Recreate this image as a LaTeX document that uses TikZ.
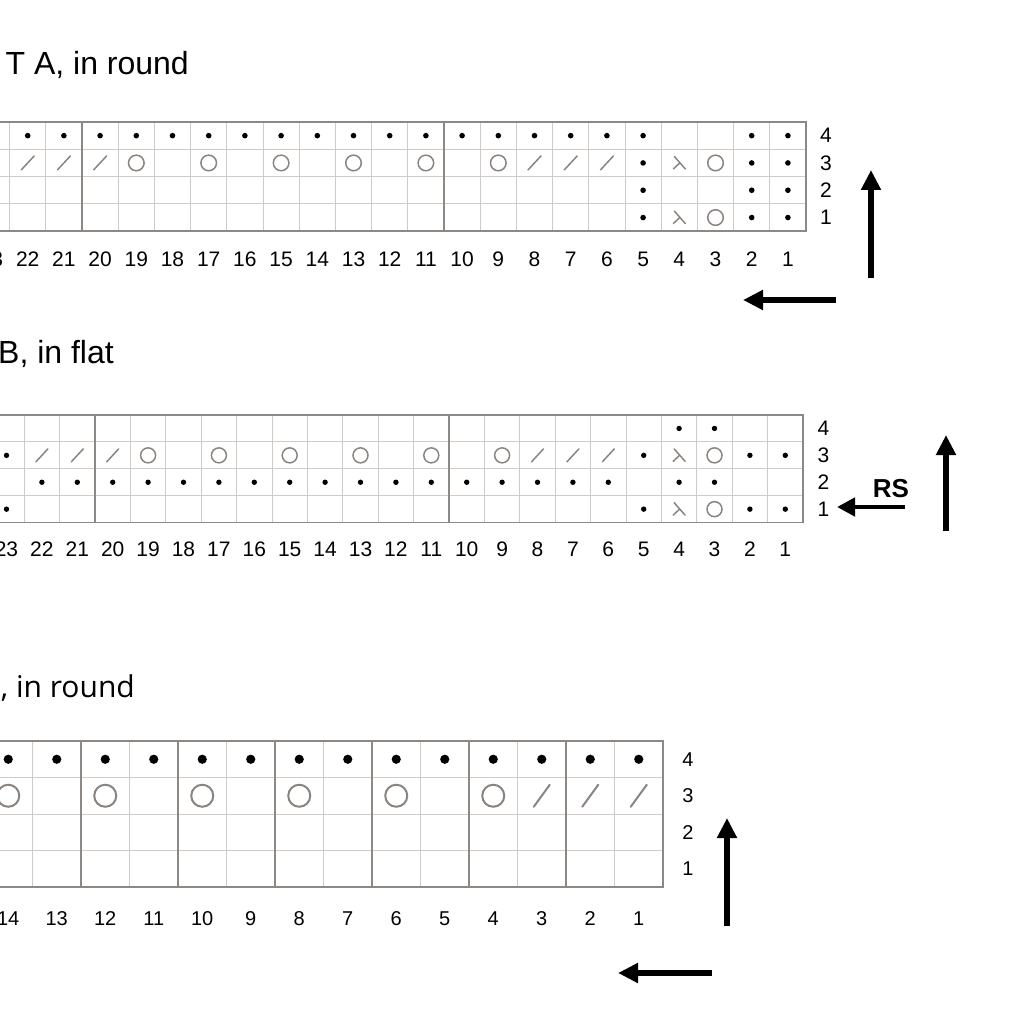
\documentclass[tikz,border=0pt]{standalone}
\usepackage{fontspec}
\setmainfont{Liberation Sans}
\newfontfamily\titleCfont{Open Sans}
\usetikzlibrary{arrows.meta}
\definecolor{gridlight}{HTML}{D2CBC5}
\definecolor{griddark}{HTML}{8E8884}
\definecolor{symgrey}{HTML}{8A8480}
\tikzset{
  cellline/.style={draw=gridlight, line width=1pt},
  sepline/.style={draw=griddark, line width=1.3pt},
  gridborder/.style={draw=griddark, line width=1.6pt},
  numlbl/.style={font=\fontsize{21}{21}\selectfont, inner sep=0pt},
  titletext/.style={font=\fontsize{32}{32}\selectfont, inner sep=0pt},
  symline/.style={draw=symgrey, line width=1.5pt, line cap=round},
  dotsym/.style={fill=black},
  bigarrow/.style={line width=6pt, -{Triangle[width=19pt,length=20pt]}},
  rsarrow/.style={line width=4.5pt, -{Triangle[width=18pt,length=18pt]}},
}
\newcommand\kgrid{%
  \foreach \j in {1,2,3}{\draw[cellline] ({\RR-\WW*\NC},{\TT+\j*\HH}) -- (\RR,{\TT+\j*\HH});}%
  \foreach \k in {1,...,\NC}{%
    \pgfmathtruncatemacro\m{mod(\k,\SEP)}%
    \ifnum\m=0\relax
      \draw[sepline] ({\RR-\WW*\k},\TT) -- ({\RR-\WW*\k},{\TT+4*\HH});
    \else
      \draw[cellline] ({\RR-\WW*\k},\TT) -- ({\RR-\WW*\k},{\TT+4*\HH});
    \fi
  }%
  \draw[gridborder] ({\RR-\WW*\NC},\TT) -- (\RR,\TT) -- (\RR,{\TT+4*\HH}) -- ({\RR-\WW*\NC},{\TT+4*\HH});
}
\begin{document}
\begin{tikzpicture}[x=1pt,y=-1pt]
\useasboundingbox (0,0) rectangle (1024,1024);
\clip (0,0) rectangle (1024,1024);

% ================= CHART A =================
\node[titletext, anchor=base east] (titleA) at (189,75) {T A, in round};
\def\RR{806}\def\WW{36.2}\def\TT{122}\def\HH{27.3}\def\NC{24}\def\SEP{10}
\kgrid
\foreach \c/\r in {1/4,2/4,5/4,6/4,7/4,8/4,9/4,10/4,11/4,12/4,13/4,14/4,15/4,16/4,17/4,18/4,19/4,20/4,21/4,22/4,
  5/3,2/3,1/3, 5/2,2/2,1/2, 5/1,2/1,1/1}
  {\fill[dotsym] ({\RR-\WW*(\c-0.5)},{\TT+\HH*(4.5-\r)}) circle[radius=2.8];}
\foreach \c/\r in {19/3,17/3,15/3,13/3,11/3,9/3,3/3,3/1}
  {\draw[symline] ({\RR-\WW*(\c-0.5)},{\TT+\HH*(4.5-\r)}) circle[radius=7.8];}
\foreach \c/\r in {22/3,21/3,20/3,8/3,7/3,6/3}
  {\draw[symline] ({\RR-\WW*(\c-0.5)-6.5},{\TT+\HH*(4.5-\r)+7}) -- ({\RR-\WW*(\c-0.5)+6.5},{\TT+\HH*(4.5-\r)-7});}
\foreach \c/\r in {4/3,4/1}
  {\draw[symline] ({\RR-\WW*(\c-0.5)-5},{\TT+\HH*(4.5-\r)-6.5}) -- ({\RR-\WW*(\c-0.5)+6},{\TT+\HH*(4.5-\r)+6});
   \draw[symline] ({\RR-\WW*(\c-0.5)+0.5},{\TT+\HH*(4.5-\r)}) -- ({\RR-\WW*(\c-0.5)-6},{\TT+\HH*(4.5-\r)+6});}
\foreach \c in {1,...,23}{\node[numlbl] (colA\c) at ({\RR-\WW*(\c-0.5)},259.5) {\c};}
\foreach \r in {1,...,4}{\node[numlbl] (rowA\r) at (826,{\TT+\HH*(4.5-\r)}) {\r};}
\coordinate (aUpS) at (871,278); \coordinate (aUpE) at (871,170);
\coordinate (aLfS) at (836,300); \coordinate (aLfE) at (743,300);
\draw[bigarrow] (aUpS) -- (aUpE);
\draw[bigarrow] (aLfS) -- (aLfE);

% ================= CHART B =================
\node[titletext, anchor=base east] (titleB) at (114,363) {B, in flat};
\def\RR{803}\def\WW{35.4}\def\TT{415}\def\HH{26.9}\def\NC{24}\def\SEP{10}
\kgrid
\foreach \c/\r in {4/4,3/4, 23/3,5/3,2/3,1/3,
  22/2,21/2,20/2,19/2,18/2,17/2,16/2,15/2,14/2,13/2,12/2,11/2,10/2,9/2,8/2,7/2,6/2,4/2,3/2,
  23/1,5/1,2/1,1/1}
  {\fill[dotsym] ({\RR-\WW*(\c-0.5)},{\TT+\HH*(4.5-\r)}) circle[radius=2.7];}
\foreach \c/\r in {19/3,17/3,15/3,13/3,11/3,9/3,3/3,3/1}
  {\draw[symline] ({\RR-\WW*(\c-0.5)},{\TT+\HH*(4.5-\r)}) circle[radius=7.5];}
\foreach \c/\r in {22/3,21/3,20/3,8/3,7/3,6/3}
  {\draw[symline] ({\RR-\WW*(\c-0.5)-6},{\TT+\HH*(4.5-\r)+6.5}) -- ({\RR-\WW*(\c-0.5)+6},{\TT+\HH*(4.5-\r)-6.5});}
\foreach \c/\r in {4/3,4/1}
  {\draw[symline] ({\RR-\WW*(\c-0.5)-5},{\TT+\HH*(4.5-\r)-6.5}) -- ({\RR-\WW*(\c-0.5)+6},{\TT+\HH*(4.5-\r)+6});
   \draw[symline] ({\RR-\WW*(\c-0.5)+0.5},{\TT+\HH*(4.5-\r)}) -- ({\RR-\WW*(\c-0.5)-6},{\TT+\HH*(4.5-\r)+6});}
\foreach \c in {1,...,23}{\node[numlbl] (colB\c) at ({\RR-\WW*(\c-0.5)},549.5) {\c};}
\foreach \r in {1,...,4}{\node[numlbl] (rowB\r) at (823.5,{\TT+\HH*(4.5-\r)}) {\r};}
\node[font=\fontsize{26}{26}\selectfont\bfseries, inner sep=0pt] (rs) at (891,489) {RS};
\coordinate (bRsS) at (905,507); \coordinate (bRsE) at (837,507);
\coordinate (bUpS) at (946,531); \coordinate (bUpE) at (946,435);
\draw[rsarrow] (bRsS) -- (bRsE);
\draw[bigarrow] (bUpS) -- (bUpE);

% ================= CHART C =================
\node[titletext, font=\titleCfont\fontsize{30}{30}\selectfont, anchor=base east] (titleC) at (135,697) {, in round};
\def\RR{663}\def\WW{48.5}\def\TT{741}\def\HH{36.5}\def\NC{15}\def\SEP{2}
\kgrid
\foreach \c in {1,...,14}
  {\fill[dotsym] ({\RR-\WW*(\c-0.5)},{\TT+\HH*0.5}) circle[radius=4.6];}
\foreach \c in {14,12,10,8,6,4}
  {\draw[symline, line width=2pt] ({\RR-\WW*(\c-0.5)},{\TT+\HH*1.5}) circle[radius=11];}
\foreach \c in {3,2,1}
  {\draw[symline, line width=2pt] ({\RR-\WW*(\c-0.5)-8},{\TT+\HH*1.5+11}) -- ({\RR-\WW*(\c-0.5)+8},{\TT+\HH*1.5-11});}
\foreach \c in {1,...,14}{\node[numlbl, font=\fontsize{20}{20}\selectfont] (colC\c) at ({\RR-\WW*(\c-0.5)},919) {\c};}
\foreach \r in {1,...,4}{\node[numlbl, font=\fontsize{20}{20}\selectfont] (rowC\r) at (688,{\TT+\HH*(4.5-\r)}) {\r};}
\coordinate (cUpS) at (727,926); \coordinate (cUpE) at (727,818);
\coordinate (cLfS) at (712,973); \coordinate (cLfE) at (618,973);
\draw[bigarrow] (cUpS) -- (cUpE);
\draw[bigarrow] (cLfS) -- (cLfE);
\end{tikzpicture}
\end{document}
